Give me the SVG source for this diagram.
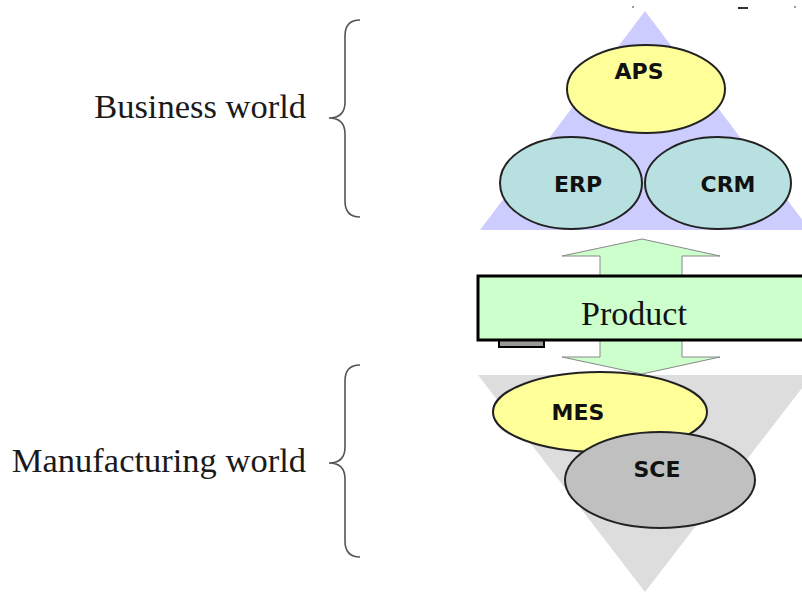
<svg xmlns="http://www.w3.org/2000/svg" width="802" height="594" viewBox="0 0 802 594">
<style>
.lbl{font-family:"Liberation Serif","Times New Roman",serif;font-size:34.5px;fill:#1a1a1a}
.nd{font-family:"DejaVu Sans",Verdana,sans-serif;font-weight:bold;font-size:22px;fill:#111;text-anchor:middle}
.ell{stroke:#222;stroke-width:2}
.brace{fill:none;stroke:#555;stroke-width:1.6}
</style>
<rect width="802" height="594" fill="#fff"/>
<g id="marks" fill="#333">
<rect x="632" y="6" width="2" height="2" fill="#999"/>
<rect x="738" y="7" width="10" height="2"/>
<rect x="794" y="6" width="2" height="2" fill="#999"/>
</g>
<g id="business-world">
<path class="brace" d="M360,20 Q345,20 345,36 L345,102 Q345,118 329,118 Q345,118 345,134 L345,201 Q345,217 360,217"/>
<text class="lbl" x="306" y="118" text-anchor="end">Business world</text>
</g>
<g id="manufacturing-world">
<path class="brace" d="M360,365 Q345,365 345,381 L345,447 Q345,463 329,463 Q345,463 345,479 L345,541 Q345,557 360,557"/>
<text class="lbl" x="306" y="472" text-anchor="end">Manufacturing world</text>
</g>
<g id="business-triangle"><polygon points="645,11 480,230 810,230" fill="#ccccff"/></g>
<g id="manufacturing-triangle"><polygon points="478,375 812,375 645,592" fill="#dddddd"/></g>
<g id="connectors">
<polygon points="642,239 720,256 682,256 682,357 720,357 642,374 562,357 600,357 600,256 562,256" fill="#ccffcc" stroke="#888" stroke-width="1"/>
</g>
<g id="product">
<rect x="499" y="339" width="45" height="8" fill="#999" stroke="#000" stroke-width="2"/>
<rect x="478" y="276" width="330" height="64" fill="#ccffcc" stroke="#000" stroke-width="3"/>
<text x="634" y="325" font-family="'Liberation Serif','Times New Roman',serif" font-size="34" fill="#111" text-anchor="middle">Product</text>
</g>
<g id="aps">
<ellipse class="ell" cx="646" cy="89" rx="79" ry="44" fill="#ffff99"/>
<text class="nd" x="639" y="79">APS</text>
</g>
<g id="erp">
<ellipse class="ell" cx="571" cy="183" rx="71" ry="46" fill="#b8e0e0"/>
<text class="nd" x="578" y="192">ERP</text>
</g>
<g id="crm">
<ellipse class="ell" cx="718" cy="183" rx="73" ry="46" fill="#b8e0e0"/>
<text class="nd" x="728" y="192">CRM</text>
</g>
<g id="mes">
<ellipse class="ell" cx="600" cy="412" rx="107" ry="40" fill="#ffff99"/>
<text class="nd" x="578" y="420">MES</text>
</g>
<g id="sce">
<ellipse class="ell" cx="660" cy="480" rx="95" ry="48" fill="#c0c0c0"/>
<text class="nd" x="657" y="477">SCE</text>
</g>
</svg>
